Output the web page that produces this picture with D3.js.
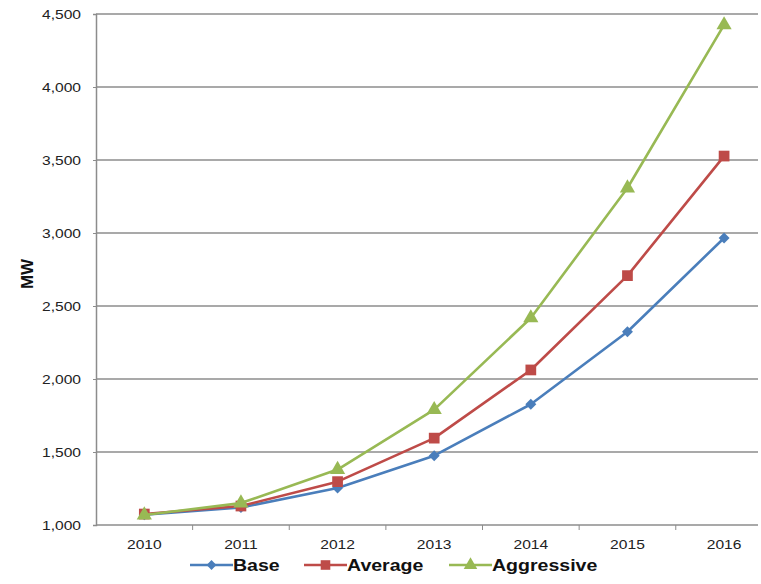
<!DOCTYPE html>
<html>
<head>
<meta charset="utf-8">
<script src="https://cdn.jsdelivr.net/npm/d3@7/dist/d3.min.js"></script>
<style>
  html, body { margin: 0; padding: 0; background: #fff; }
  svg { display: block; }
</style>
</head>
<body>
<svg id="chart" width="761" height="584"></svg>
<script>
// Installed capacity projections, MW
const years = ["2010", "2011", "2012", "2013", "2014", "2015", "2016"];
const baseMW = [1070, 1120, 1253, 1475, 1827, 2324, 2966];
const averageMW = [1075, 1130, 1297, 1595, 2062, 2708, 3527];
const aggressiveMW = [1068, 1150, 1380, 1790, 2418, 3308, 4425];
const yTicks = [1000, 1500, 2000, 2500, 3000, 3500, 4000, 4500];
const seriesNames = ["Base", "Average", "Aggressive"];

// diamond drawn as a square turned 45 degrees
const wideDiamond = {
  draw(ctx, size) {
    const r = Math.sqrt(size / 2);
    ctx.moveTo(0, -r); ctx.lineTo(r, 0); ctx.lineTo(0, r); ctx.lineTo(-r, 0); ctx.closePath();
  }
};

const series = [
  { name: seriesNames[0], values: baseMW, color: "#4a7ebb", marker: wideDiamond, size: 60 },
  { name: seriesNames[1], values: averageMW, color: "#be4b48", marker: d3.symbolSquare, size: 115 },
  { name: seriesNames[2], values: aggressiveMW, color: "#98b954", marker: d3.symbolTriangle, size: 100 }
];

const svg = d3.select("#chart");
const plot = { left: 96, top: 14, right: 758, bottom: 525 };

const x = d3.scaleBand().domain(years).range([plot.left, 772.4]);
const y = d3.scaleLinear().domain([1000, 4500]).range([plot.bottom, plot.top]);

const font = "'Liberation Sans', Arial, sans-serif";
const axisGray = "#8c8c8c";
const stretch = 1.3;

// horizontal gridlines
svg.append("g")
  .selectAll("line")
  .data(yTicks.filter(v => v > 1000))
  .join("line")
  .attr("x1", plot.left).attr("x2", plot.right)
  .attr("y1", d => y(d)).attr("y2", d => y(d))
  .attr("stroke", axisGray).attr("stroke-width", 1.3);

// y axis
const yAxis = svg.append("g")
  .attr("transform", `translate(${plot.left},0)`)
  .call(d3.axisLeft(y).tickValues(yTicks).tickSize(3)
    .tickFormat(d3.format(",")));
yAxis.select(".domain").attr("stroke", axisGray).attr("stroke-width", 1.5);
yAxis.selectAll(".tick line").attr("stroke", axisGray);
yAxis.selectAll(".tick text")
  .attr("x", null).attr("dy", null)
  .attr("text-anchor", "end")
  .attr("transform", `translate(-15,4.3) scale(${stretch},1)`)
  .attr("font-family", font).attr("font-size", 12).attr("fill", "#222");

// x axis
const xAxis = svg.append("g")
  .attr("transform", `translate(0,${plot.bottom})`);
xAxis.append("line")
  .attr("x1", plot.left).attr("x2", plot.right)
  .attr("stroke", axisGray).attr("stroke-width", 1.5);
xAxis.selectAll(".tk")
  .data(years.slice(1))
  .join("line")
  .attr("class", "tk")
  .attr("x1", d => x(d)).attr("x2", d => x(d))
  .attr("y1", 0).attr("y2", 5)
  .attr("stroke", axisGray).attr("stroke-width", 1);
xAxis.selectAll("text")
  .data(years)
  .join("text")
  .attr("transform", d => `translate(${x(d) + x.bandwidth() / 2},24) scale(${stretch},1)`)
  .attr("text-anchor", "middle")
  .attr("font-family", font).attr("font-size", 12).attr("fill", "#222")
  .text(d => d);

// y axis title
svg.append("text")
  .attr("transform", `translate(33,274) rotate(-90)`)
  .attr("text-anchor", "middle")
  .attr("font-family", font).attr("font-size", 17).attr("font-weight", "bold")
  .attr("fill", "#111")
  .text("MW");

// series lines and markers
const line = d3.line()
  .x((d, i) => x(years[i]) + x.bandwidth() / 2)
  .y(d => y(d));

series.forEach(s => {
  const g = svg.append("g");
  g.append("path")
    .attr("d", line(s.values))
    .attr("fill", "none")
    .attr("stroke", s.color)
    .attr("stroke-width", 2.6)
    .attr("stroke-linejoin", "round");
  g.selectAll("path.m")
    .data(s.values)
    .join("path")
    .attr("class", "m")
    .attr("d", d3.symbol().type(s.marker).size(s.size))
    .attr("transform", (d, i) => `translate(${x(years[i]) + x.bandwidth() / 2},${y(d)})`)
    .attr("fill", s.color);
});

// legend
const legendX = [190, 304, 449];
const legend = svg.append("g").attr("transform", "translate(0,565)");
series.forEach((s, i) => {
  const g = legend.append("g").attr("transform", `translate(${legendX[i]},0)`);
  g.append("line")
    .attr("x1", 0).attr("x2", 43)
    .attr("stroke", s.color).attr("stroke-width", 2.6);
  g.append("path")
    .attr("d", d3.symbol().type(s.marker).size(s.size * 0.8))
    .attr("transform", "translate(21.5,0)")
    .attr("fill", s.color);
  g.append("text")
    .attr("transform", "translate(43,6) scale(1.15,1)")
    .attr("font-family", font).attr("font-size", 17).attr("font-weight", "bold")
    .attr("fill", "#111")
    .text(s.name);
});
</script>
</body>
</html>
